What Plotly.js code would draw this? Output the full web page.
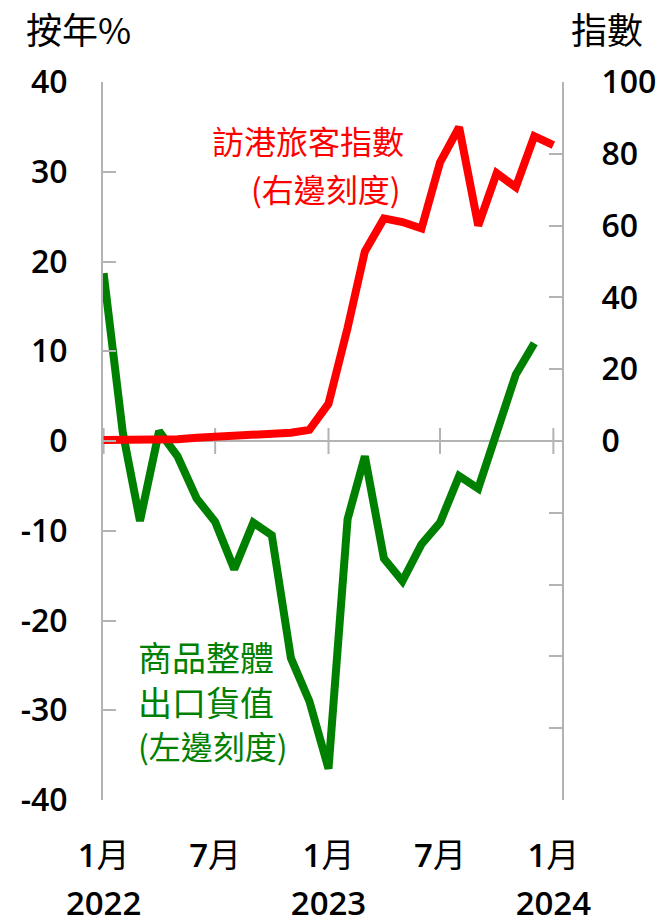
<!DOCTYPE html>
<html>
<head>
<meta charset="utf-8">
<script src="https://cdn.plot.ly/plotly-3.0.1.min.js"></script>
<style>html,body{margin:0;padding:0;background:#fff;}</style>
</head>
<body>
<div id="chart" style="width:659px;height:923px;"></div>
<script>
// ---- data ----
var greenDates = ['2022-01-01','2022-02-01','2022-03-01','2022-04-01','2022-05-01','2022-06-01','2022-07-01','2022-08-01','2022-09-01','2022-10-01','2022-11-01','2022-12-01',
                  '2023-01-01','2023-02-01','2023-03-01','2023-04-01','2023-05-01','2023-06-01','2023-07-01','2023-08-01','2023-09-01','2023-10-01','2023-11-01','2023-12-01'];
var exportsYoY = [18.7, 1.0, -8.9, 1.1, -1.7, -6.4, -9.0, -14.3, -9.1, -10.5, -24.2, -29.0,
                  -36.5, -8.7, -1.7, -13.1, -15.6, -11.5, -9.1, -3.9, -5.3, 1.0, 7.4, 10.9];
var redDates = ['2022-01-01','2022-02-01','2022-03-01','2022-04-01','2022-05-01','2022-06-01','2022-07-01','2022-08-01','2022-09-01','2022-10-01','2022-11-01','2022-12-01',
                '2023-01-01','2023-02-01','2023-03-01','2023-04-01','2023-05-01','2023-06-01','2023-07-01','2023-08-01','2023-09-01','2023-10-01','2023-11-01','2023-12-01','2024-01-01'];
var visitorIndex = [0.3, 0.3, 0.3, 0.3, 0.5, 0.9, 1.2, 1.3, 1.5, 1.8, 2.3, 3.1,
                    10.4, 31.5, 52.8, 62.0, 61.0, 59.2, 77.6, 87.4, 60.0, 74.6, 70.7, 84.9, 82.4];
var monthTickVals = ['2022-01-01','2022-07-01','2023-01-01','2023-07-01','2024-01-01'];
var monthTickText = ['1','7','1','7','1'];
var yearTickVals = ['2022-01-01','2023-01-01','2024-01-01'];
var yearTickText = ['2022','2023','2024'];
var leftTickVals = [-40,-30,-20,-10,0,10,20,30,40];
var leftTickText = ['-40','-30','-20','-10','0','10','20','30','40'];
var rightTickVals = [-100,-80,-60,-40,-20,0,20,40,60,80,100];
var rightTickText = ['','','','','','0','20','40','60','80','100'];

// ---- style ----
var FONT = 'Open Sans, Noto Sans CJK TC, sans-serif';
var CJK = 'Noto Sans CJK TC, Open Sans, sans-serif';
var GREY = '#b3b3b3';
var xTickFont = {family: FONT, size: 33, color: '#000', weight: 600};
var yTickFont = {family: FONT, size: 32, color: '#000', weight: 600};

var monthLabels = monthTickText.map(function(m){ return m + '<span style="font-weight:400">月</span>'; });

var traces = [
  {x: greenDates, y: exportsYoY, type: 'scatter', mode: 'lines', xaxis: 'x', yaxis: 'y',
   line: {color: '#008000', width: 8}, hoverinfo: 'skip'},
  {x: redDates, y: visitorIndex, type: 'scatter', mode: 'lines', xaxis: 'x2', yaxis: 'y2',
   line: {color: '#ff0000', width: 8}, hoverinfo: 'skip'}
];

var tickHalf = 13 / 718;
var shapes = monthTickVals.map(function(d){
  return {type: 'line', xref: 'x', yref: 'paper', x0: d, x1: d, y0: 0.5 - tickHalf, y1: 0.5 + tickHalf,
          line: {color: GREY, width: 2}, layer: 'below'};
});

var xRange = ['2021-12-31', '2024-01-15'];

var layout = {
  width: 659, height: 923,
  margin: {l: 103, r: 97, t: 82, b: 123, pad: 0},
  paper_bgcolor: '#fff', plot_bgcolor: '#fff',
  showlegend: false,
  xaxis: {type: 'date', range: xRange, showline: false, showgrid: false, zeroline: false,
          ticks: '', tickmode: 'array', tickvals: monthTickVals, ticktext: monthLabels,
          tickfont: xTickFont, ticklabelstandoff: 33},
  xaxis2: {type: 'date', range: xRange, overlaying: 'x', matches: 'x', anchor: 'y2', side: 'bottom',
           showline: false, showgrid: false, zeroline: false, ticks: '',
           tickmode: 'array', tickvals: yearTickVals, ticktext: yearTickText,
           tickfont: xTickFont, ticklabelstandoff: 81},
  yaxis: {range: [-40, 40], showgrid: false, showline: true, linecolor: GREY, linewidth: 2,
          zeroline: true, zerolinecolor: GREY, zerolinewidth: 2,
          ticks: 'inside', ticklen: 13, tickwidth: 2, tickcolor: GREY,
          tickmode: 'array', tickvals: leftTickVals, ticktext: leftTickText,
          tickfont: yTickFont, ticklabelstandoff: 27},
  yaxis2: {range: [-100, 100], overlaying: 'y', side: 'right', anchor: 'x2', showgrid: false,
           showline: true, linecolor: GREY, linewidth: 2, zeroline: false,
           ticks: 'inside', ticklen: 13, tickwidth: 2, tickcolor: GREY,
           tickmode: 'array', tickvals: rightTickVals, ticktext: rightTickText,
           tickfont: yTickFont, ticklabelstandoff: 31},
  shapes: shapes,
  annotations: [
    {text: '按年%', xref: 'paper', yref: 'paper', x: (24 - 103) / 459, y: (800 - 28) / 718,
     xanchor: 'left', yanchor: 'middle', showarrow: false, font: {family: CJK, size: 36, color: '#000'}},
    {text: '指數', xref: 'paper', yref: 'paper', x: (569 - 103) / 459, y: (800 - 28) / 718,
     xanchor: 'left', yanchor: 'middle', showarrow: false, font: {family: CJK, size: 36, color: '#000'}},
    {text: '訪港旅客指數', xref: 'paper', yref: 'paper', x: (406 - 103) / 459, y: (800 - 140) / 718,
     xanchor: 'right', yanchor: 'middle', showarrow: false, font: {family: CJK, size: 32, color: '#ff0000'}},
    {text: '(右邊刻度)', xref: 'paper', yref: 'paper', x: (403 - 103) / 459, y: (800 - 188) / 718,
     xanchor: 'right', yanchor: 'middle', showarrow: false, font: {family: CJK, size: 32, color: '#ff0000'}},
    {text: '商品整體', xref: 'paper', yref: 'paper', x: (136 - 103) / 459, y: (800 - 656) / 718,
     xanchor: 'left', yanchor: 'middle', showarrow: false, font: {family: CJK, size: 34, color: '#008000'}},
    {text: '出口貨值', xref: 'paper', yref: 'paper', x: (136 - 103) / 459, y: (800 - 701) / 718,
     xanchor: 'left', yanchor: 'middle', showarrow: false, font: {family: CJK, size: 34, color: '#008000'}},
    {text: '(左邊刻度)', xref: 'paper', yref: 'paper', x: (136 - 103) / 459, y: (800 - 745) / 718,
     xanchor: 'left', yanchor: 'middle', showarrow: false, font: {family: CJK, size: 32, color: '#008000'}}
  ]
};

Plotly.newPlot('chart', traces, layout, {staticPlot: true, displayModeBar: false});
</script>
</body>
</html>
